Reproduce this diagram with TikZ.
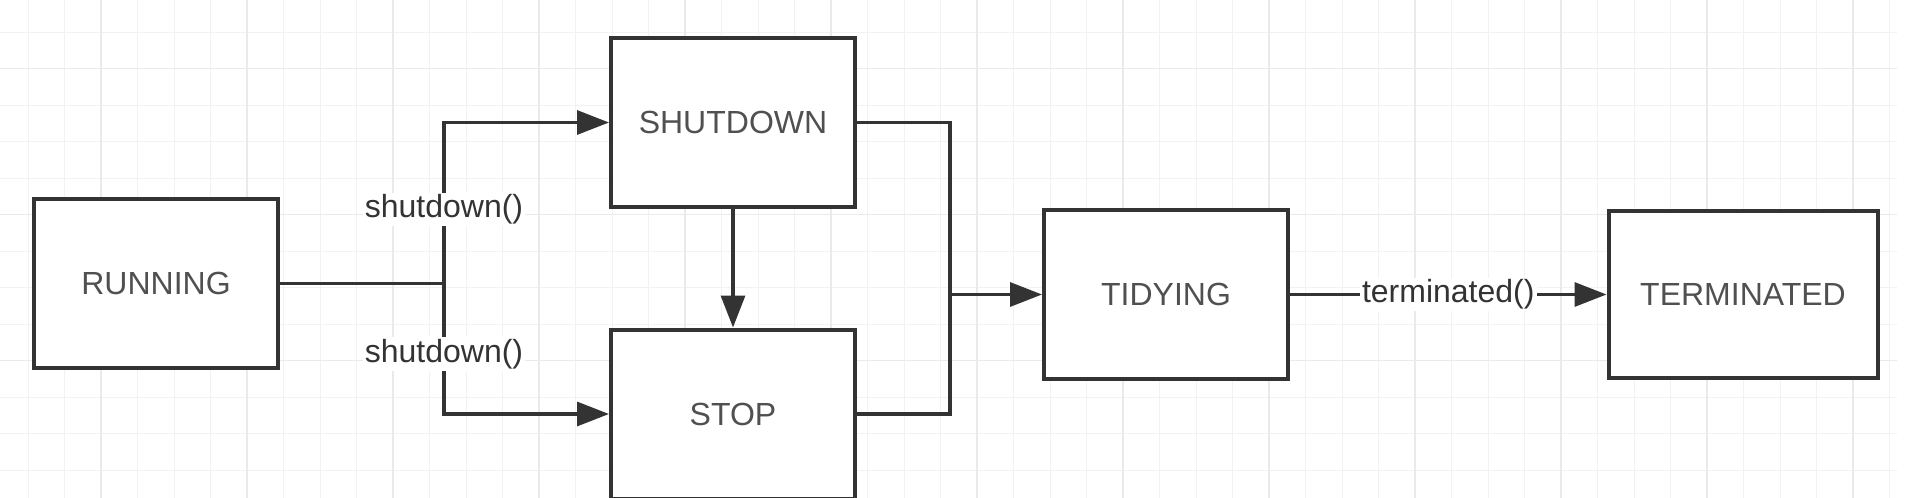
\documentclass[tikz,border=0pt]{standalone}
\usepackage{fontspec}
\setmainfont{Liberation Sans}
\usetikzlibrary{arrows.meta}
\definecolor{gridminor}{HTML}{F2F2F2}
\definecolor{gridmajor}{HTML}{EAEAEA}
\definecolor{ink}{HTML}{333333}
\definecolor{boxtext}{HTML}{505050}
\tikzstyle{state} = [draw=ink, line width=2pt, fill=white, rectangle, align=center,
    minimum width=122pt, minimum height=84.5pt, inner sep=0pt, text=boxtext,
    font=\fontsize{16}{19}\selectfont]
\tikzstyle{wire} = [draw=ink, line width=1.6pt]
\tikzstyle{arrow} = [wire, -{Triangle[length=16pt,width=12pt]}]
\tikzstyle{call} = [fill=white, inner sep=1pt, text=ink, font=\fontsize{16}{19}\selectfont]

\begin{document}
\begin{tikzpicture}[x=0.5pt,y=-0.5pt]
    \useasboundingbox (0,0) rectangle (1912,498);
    \fill[white] (0,0) rectangle (1912,498);
    % background grid
    \foreach \x in {28,64.5,...,1897}
        \draw[gridminor, line width=0.5pt] (\x,0) -- (\x,498);
    \foreach \y in {32,68.5,...,498}
        \draw[gridminor, line width=0.5pt] (0,\y) -- (1897,\y);
    \foreach \x in {101,247,...,1853}
        \draw[gridmajor, line width=0.7pt] (\x,0) -- (\x,498);
    \foreach \y in {68.5,214.5,360.5}
        \draw[gridmajor, line width=0.7pt] (0,\y) -- (1897,\y);

    % states
    \node[state] (running) at (156,283.5) {RUNNING};
    \node[state] (shutdown) at (733,122.5) {SHUTDOWN};
    \node[state] (stop) at (733,414) {STOP};
    \node[state] (tidying) at (1166,294.5) {TIDYING};
    \node[state, minimum width=134.5pt, minimum height=83.5pt]
        (terminated) at (1743,294.5) {TERMINATED};

    % transitions
    \coordinate (fork) at (444,283.5);
    \coordinate (merge) at (950,294.5);
    \draw[wire] (running.east) -- (fork);
    \draw[arrow] (fork) |- node[call, pos=0.23] {shutdown()} (shutdown.west);
    \draw[arrow] (fork) |- node[call, pos=0.27] {shutdown()} (stop.west);
    \draw[arrow] (shutdown.south) -- (stop.north);
    \draw[wire] (shutdown.east) -| (merge) |- (stop.east);
    \draw[arrow] (merge) -- (tidying.west);
    \draw[arrow] (tidying.east) -- node[call] {terminated()} (terminated.west);
\end{tikzpicture}
\end{document}
